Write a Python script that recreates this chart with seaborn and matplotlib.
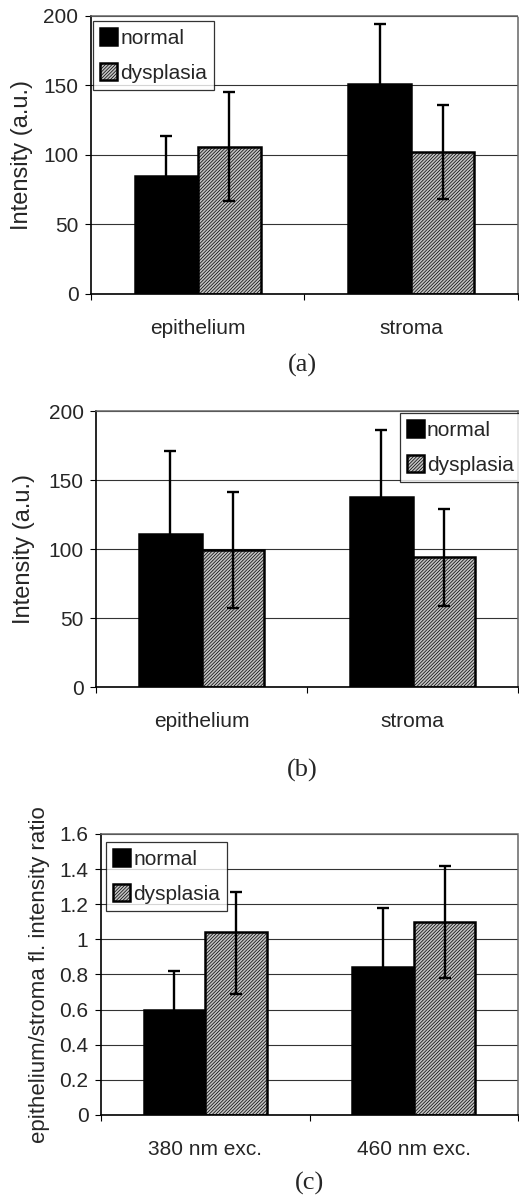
import pandas as pd
import seaborn as sns
import matplotlib.pyplot as plt
from matplotlib.ticker import FixedLocator, FuncFormatter

# ---------------- data ----------------
groups = ['normal', 'dysplasia']
tissues = ['epithelium', 'stroma']
excitations = ['380 nm exc.', '460 nm exc.']

# (a)
a_normal = [85, 151]
a_normal_err = [29, 43]
a_dysplasia = [106, 102]
a_dysplasia_err = [39, 34]

# (b)
b_normal = [111, 138]
b_normal_err = [60, 48]
b_dysplasia = [99, 94]
b_dysplasia_err = [42, 35]

# (c)
c_normal = [0.60, 0.84]
c_normal_err = [0.22, 0.34]
c_dysplasia = [1.04, 1.10]
c_dysplasia_err_low = [0.35, 0.32]
c_dysplasia_err_high = [0.23, 0.32]

ab_yticks = [0, 50, 100, 150, 200]
c_yticks = [0, 0.2, 0.4, 0.6, 0.8, 1.0, 1.2, 1.4, 1.6]

sns.set_theme(style='white')
plt.rcParams['font.family'] = ['Liberation Sans', 'DejaVu Sans']
plt.rcParams['hatch.color'] = '#6a6a6a'
plt.rcParams['hatch.linewidth'] = 0.5


def make_frame(cats, normal, dysplasia):
    rows = []
    for cat, v in zip(cats, normal):
        rows.append([cat, 'normal', v])
    for cat, v in zip(cats, dysplasia):
        rows.append([cat, 'dysplasia', v])
    return pd.DataFrame(rows, columns=['cat', 'group', 'value'])


def draw_panel(ax, cats, normal, dysplasia, errs, yticks, ylabel, ylabel_size,
               legend_anchor, ylabel_x):
    df = make_frame(cats, normal, dysplasia)
    sns.barplot(df, x='cat', y='value', hue='group', hue_order=groups,
                palette=['black', '#c2c2c2'], width=0.59, gap=0,
                edgecolor='black', linewidth=1.8, saturation=1, ax=ax, legend=False)
    for bar in ax.containers[1]:
        bar.set_hatch('//////////')

    # error bars on top of the bars
    for cont, (lo, hi) in zip(ax.containers, errs):
        xs = [b.get_x() + b.get_width() / 2 for b in cont]
        ys = [b.get_height() for b in cont]
        ax.errorbar(xs, ys, yerr=[lo, hi], fmt='none', ecolor='black',
                    elinewidth=1.7, capsize=4.5, capthick=1.7, zorder=5)

    ax.set_xlim(-0.5, 1.5)
    ax.set_ylim(yticks[0], yticks[-1])
    ax.yaxis.set_major_locator(FixedLocator(yticks))
    ax.yaxis.set_major_formatter(FuncFormatter(lambda v, p: f'{v:g}'))
    ax.yaxis.grid(True, color='#333333', linewidth=0.8)
    ax.set_axisbelow(True)

    ax.xaxis.set_minor_locator(FixedLocator([-0.5, 0.5, 1.5]))
    ax.tick_params(axis='x', which='major', length=0, pad=18, labelsize=15)
    ax.tick_params(axis='x', which='minor', length=4, width=0.8, color='black', direction='out', bottom=True)
    ax.tick_params(axis='y', length=4, width=0.8, color='black', direction='out', left=True,
                   labelsize=15, pad=5)

    for side in ['left', 'bottom']:
        ax.spines[side].set_color('black')
        ax.spines[side].set_linewidth(1.2)
    for side in ['top', 'right']:
        ax.spines[side].set_color('#666666')
        ax.spines[side].set_linestyle((0, (1, 1)))
        ax.spines[side].set_linewidth(1.1)

    ax.set_xlabel('')
    ax.set_ylabel(ylabel, fontsize=ylabel_size)
    ax.yaxis.set_label_coords(ylabel_x, 0.5)

    handles = [ax.containers[0][0], ax.containers[1][0]]
    leg = ax.legend(handles, groups, loc='upper left', bbox_to_anchor=legend_anchor,
                    fontsize=15, frameon=True, fancybox=False, edgecolor='black',
                    handlelength=0.8, handleheight=0.85, handletextpad=0.15,
                    labelspacing=0.75, borderpad=0.35, borderaxespad=0)
    leg.get_frame().set_linewidth(0.9)


fig = plt.figure(figsize=(5.19, 11.99), dpi=100)

ax_a = fig.add_axes([0.1753, 0.7548, 0.8227, 0.2319])
draw_panel(ax_a, tissues, a_normal, a_dysplasia,
           [(a_normal_err, a_normal_err), (a_dysplasia_err, a_dysplasia_err)],
           ab_yticks, 'Intensity (a.u.)', 17, (0.005, 0.982), -0.136)

ax_b = fig.add_axes([0.185, 0.4270, 0.8131, 0.2302])
draw_panel(ax_b, tissues, b_normal, b_dysplasia,
           [(b_normal_err, b_normal_err), (b_dysplasia_err, b_dysplasia_err)],
           ab_yticks, 'Intensity (a.u.)', 17, (0.72, 0.993), -0.145)

ax_c = fig.add_axes([0.1946, 0.0701, 0.8035, 0.2344])
draw_panel(ax_c, excitations, c_normal, c_dysplasia,
           [(c_normal_err, c_normal_err), (c_dysplasia_err_low, c_dysplasia_err_high)],
           c_yticks, 'epithelium/stroma fl. intensity ratio', 16, (0.012, 0.972), -0.123)

for label, (x, y) in zip(['(a)', '(b)', '(c)'], [(302, 365), (302, 770), (310, 1183)]):
    fig.text(x / 519, 1 - y / 1199, label, ha='center', va='center',
             fontsize=19, family=['Liberation Serif', 'DejaVu Serif'])

fig.savefig('out.png', dpi=100)
